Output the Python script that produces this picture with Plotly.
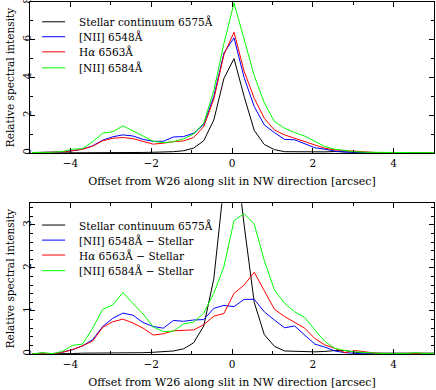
import plotly.graph_objects as go

# Offset along slit [arcsec]
offset = [-4.95, -4.70, -4.45, -4.20, -3.95, -3.70, -3.45, -3.20, -2.95, -2.70,
          -2.45, -2.20, -1.95, -1.70, -1.45, -1.20, -0.95, -0.70, -0.45, -0.20,
          0.05, 0.30, 0.55, 0.80, 1.05, 1.30, 1.55, 1.80, 2.05, 2.30,
          2.55, 2.80, 3.05, 3.30, 3.55, 3.80, 4.05, 4.30, 4.55, 4.80, 5.05]

stellar = [0.00, 0.00, 0.00, 0.01, 0.01, 0.02, 0.02, 0.02, 0.02, 0.03,
           0.03, 0.03, 0.04, 0.05, 0.07, 0.12, 0.26, 0.65, 1.75, 3.95,
           5.00, 3.00, 1.20, 0.45, 0.18, 0.07, 0.06, 0.05, 0.05, 0.06,
           0.08, 0.08, 0.04, 0.02, 0.02, 0.02, 0.02, 0.02, 0.02, 0.02, 0.02]

# Top panel: raw line profiles
nii6548 = [0.02, 0.02, 0.03, 0.06, 0.12, 0.20, 0.38, 0.68, 0.86, 0.96,
           0.90, 0.72, 0.62, 0.62, 0.85, 0.87, 1.05, 1.50, 3.00, 5.30,
           6.10, 4.00, 2.46, 1.49, 1.08, 0.72, 0.70, 0.50, 0.28, 0.20,
           0.10, 0.05, 0.03, 0.02, 0.02, 0.02, 0.02, 0.02, 0.02, 0.02, 0.02]
halpha = [0.02, 0.02, 0.03, 0.06, 0.12, 0.20, 0.36, 0.65, 0.78, 0.82,
          0.76, 0.60, 0.47, 0.52, 0.60, 0.64, 0.82, 1.40, 2.85, 5.20,
          6.40, 4.33, 2.90, 1.84, 1.22, 0.96, 0.78, 0.60, 0.39, 0.25,
          0.16, 0.12, 0.10, 0.06, 0.03, 0.02, 0.02, 0.02, 0.02, 0.02, 0.02]
nii6584 = [0.03, 0.03, 0.04, 0.08, 0.20, 0.23, 0.60, 1.05, 1.13, 1.44,
           1.15, 0.90, 0.62, 0.55, 0.60, 0.75, 1.00, 1.58, 3.30, 5.80,
           7.95, 6.00, 4.10, 2.65, 1.67, 1.31, 1.08, 0.90, 0.60, 0.34,
           0.20, 0.12, 0.07, 0.04, 0.03, 0.02, 0.02, 0.02, 0.02, 0.02, 0.02]

# Bottom panel: line minus stellar
nii6548_sub = [0.00, 0.02, 0.00, 0.04, 0.10, 0.19, 0.33, 0.64, 0.83, 0.95,
               0.90, 0.73, 0.64, 0.60, 0.78, 0.76, 0.79, 0.80, 1.06, 1.13,
               1.10, 1.27, 1.27, 0.98, 0.79, 0.61, 0.65, 0.44, 0.23, 0.16,
               0.07, 0.03, 0.02, 0.00, 0.01, 0.01, 0.01, 0.01, 0.01, 0.01, 0.01]
halpha_sub = [0.00, 0.02, 0.00, 0.04, 0.10, 0.19, 0.30, 0.62, 0.75, 0.81,
              0.72, 0.60, 0.44, 0.47, 0.54, 0.55, 0.56, 0.68, 0.88, 0.94,
              1.41, 1.60, 1.90, 1.47, 1.04, 0.87, 0.73, 0.60, 0.36, 0.21,
              0.13, 0.03, 0.08, 0.05, 0.02, 0.01, 0.01, 0.01, 0.01, 0.01, 0.01]
nii6584_sub = [0.00, 0.03, 0.01, 0.06, 0.20, 0.23, 0.60, 1.04, 1.14, 1.43,
               1.17, 0.93, 0.63, 0.52, 0.53, 0.70, 0.74, 0.95, 1.41, 2.03,
               3.10, 3.26, 3.02, 2.17, 1.49, 1.18, 0.98, 0.85, 0.56, 0.29,
               0.13, 0.08, 0.05, 0.03, 0.02, 0.01, 0.01, 0.01, 0.03, 0.01, 0.01]

top_names = ["Stellar continuum 6575Å", "[NII] 6548Å", "H<i>α</i> 6563Å", "[NII] 6584Å"]
bot_names = ["Stellar continuum 6575Å", "[NII] 6548Å − Stellar",
             "H<i>α</i> 6563Å − Stellar", "[NII] 6584Å − Stellar"]
colors = ["#000000", "#0000ff", "#ff0000", "#00ff00"]

FONT = "DejaVu Serif"
FS = 10.5

fig = go.Figure()
top_series = [stellar, nii6548, halpha, nii6584]
bot_series = [stellar, nii6548_sub, halpha_sub, nii6584_sub]
for ys, c, n in zip(top_series, colors, top_names):
    fig.add_trace(go.Scatter(x=offset, y=ys, mode="lines", name=n,
                             line=dict(color=c, width=1), xaxis="x", yaxis="y",
                             showlegend=False))
for ys, c, n in zip(bot_series, colors, bot_names):
    fig.add_trace(go.Scatter(x=offset, y=ys, mode="lines", name=n,
                             line=dict(color=c, width=1), xaxis="x2", yaxis="y2",
                             showlegend=False))

# manual legends
top_rows = [0.869, 0.770, 0.670, 0.564]
bot_rows = [0.856, 0.756, 0.657, 0.553]
for rows, names, xr, yr in [(top_rows, top_names, "x domain", "y domain"),
                            (bot_rows, bot_names, "x2 domain", "y2 domain")]:
    for r, n, c in zip(rows, names, colors):
        fig.add_shape(type="line", xref=xr, yref=yr, x0=0.030, x1=0.087, y0=r, y1=r,
                      line=dict(color=c, width=1))
        fig.add_annotation(xref=xr, yref=yr, x=0.117, y=r, text=n, showarrow=False,
                           xanchor="left", yanchor="middle",
                           font=dict(family=FONT, size=FS, color="black"))

axis_common = dict(range=[-5, 5], showline=True, linecolor="black", linewidth=1,
                   mirror="allticks", ticks="inside", ticklen=5, tickcolor="black",
                   showgrid=False, zeroline=False, automargin=False,
                   ticklabeloverflow="allow",
                   tickfont=dict(family=FONT, size=FS, color="black"))
xa = dict(axis_common, tickmode="linear", tick0=0, dtick=2,
          minor=dict(ticks="inside", dtick=1, ticklen=3, tickcolor="black", showgrid=False),
          title=dict(text="Offset from W26 along slit in NW direction [arcsec]",
                     font=dict(family=FONT, size=11, color="black"), standoff=9))
ytitle = dict(text="Relative spectral intensity",
              font=dict(family=FONT, size=FS, color="black"), standoff=4)
fig.update_layout(
    template="none",
    width=436, height=390,
    margin=dict(l=30, r=2, t=2, b=36),
    paper_bgcolor="white", plot_bgcolor="white",
    xaxis=dict(xa, domain=[0, 1], anchor="y"),
    xaxis2=dict(xa, domain=[0, 1], anchor="y2"),
    yaxis=dict(axis_common, range=[0, 8], domain=[0.571, 1], anchor="x",
               tickmode="linear", tick0=0, dtick=2, tickangle=-90,
               ticklabelstandoff=-6,
               minor=dict(ticks="inside", dtick=1, ticklen=3, tickcolor="black", showgrid=False),
               title=ytitle),
    yaxis2=dict(axis_common, range=[0, 3.5], domain=[0, 0.428], anchor="x2",
                tickmode="linear", tick0=0, dtick=1, tickangle=-90,
                ticklabelstandoff=-6,
                minor=dict(ticks="inside", dtick=0.2, ticklen=3, tickcolor="black", showgrid=False),
                title=ytitle),
)
fig.write_html("out.html", config={"displayModeBar": False},
               post_script="document.body.style.margin='0';")
